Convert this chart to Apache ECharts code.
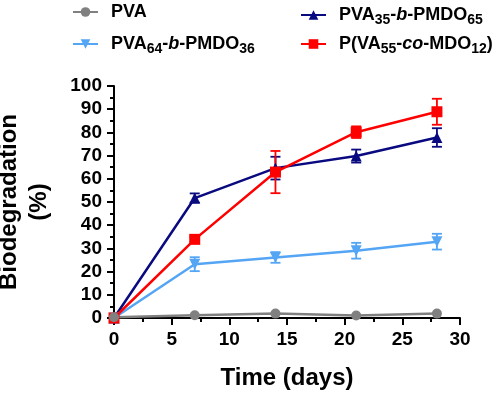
<!DOCTYPE html>
<html><head><meta charset="utf-8">
<script src="https://cdn.jsdelivr.net/npm/echarts@6/dist/echarts.min.js"></script>
<style>html,body{margin:0;padding:0;background:#fff}#c{width:500px;height:393px}</style>
</head><body><div id="c"></div>
<script>
const days = [0, 7, 14, 21, 28];
const pva = [0.3, 1.2, 1.9, 1.1, 1.9];
const pva64 = [0, 23.2, 26.1, 29, 32.9];
const pva64Err = [0, 3, 2.3, 3.4, 3.4];
const pva35 = [0, 51.7, 64.6, 69.8, 77.8];
const pva35Err = [0, 2, 4.9, 2.8, 4];
const pvaco = [0, 33.9, 62.9, 80.1, 88.9];
const pvacoErr = [0, 1, 9.1, 2.5, 5.6];
const xTicks = [0, 5, 10, 15, 20, 25, 30];
const yTicks = [0, 10, 20, 30, 40, 50, 60, 70, 80, 90, 100];

const names = ['PVA', 'PVA64-b-PMDO36', 'PVA35-b-PMDO65', 'P(VA55-co-MDO12)'];
const colors = ['#808080', '#55a5f5', '#0a0a80', '#ff0000'];
const FONT = 'Liberation Sans';

function pts(vals) { return days.map((d, i) => [d, vals[i]]); }
function errSeries(vals, errs, color) {
  return {
    type: 'custom', silent: true, z: 1,
    data: days.map((d, i) => [d, vals[i], errs[i]]).filter(r => r[2] > 0),
    renderItem: function (params, api) {
      const x = api.value(0), y = api.value(1), e = api.value(2);
      const top = api.coord([x, y + e]), bot = api.coord([x, y - e]);
      const w = 5;
      const st = { stroke: color, lineWidth: 1.8 };
      return { type: 'group', children: [
        { type: 'line', shape: { x1: top[0], y1: top[1], x2: bot[0], y2: bot[1] }, style: st },
        { type: 'line', shape: { x1: top[0] - w, y1: top[1], x2: top[0] + w, y2: top[1] }, style: st },
        { type: 'line', shape: { x1: bot[0] - w, y1: bot[1], x2: bot[0] + w, y2: bot[1] }, style: st }
      ]};
    }
  };
}
function lineSeries(name, vals, color, symbol, size, rotate) {
  return { name: name, type: 'line', data: pts(vals), symbol: symbol, symbolSize: size, symbolRotate: rotate || 0,
    showAllSymbol: true, z: 3,
    lineStyle: { color: color, width: 2.5 }, itemStyle: { color: color } };
}
const rich = {
  n: { fontFamily: FONT, fontWeight: 'bold', fontSize: 18, color: '#000', lineHeight: 22 },
  i: { fontFamily: FONT, fontWeight: 'bold', fontStyle: 'italic', fontSize: 18, color: '#000', lineHeight: 22 },
  s: { fontFamily: FONT, fontWeight: 'bold', fontSize: 14, color: '#000', lineHeight: 22, padding: [10, 0, 0, 0] }
};
const labels = {
  'PVA': '{n|PVA}',
  'PVA64-b-PMDO36': '{n|PVA}{s|64}{n|-}{i|b}{n|-PMDO}{s|36}',
  'PVA35-b-PMDO65': '{n|PVA}{s|35}{n|-}{i|b}{n|-PMDO}{s|65}',
  'P(VA55-co-MDO12)': '{n|P(VA}{s|55}{n|-}{i|co}{n|-MDO}{s|12}{n|)}'
};
const legendPos = [[72, 3], [72, 32], [300, 3], [300, 32]];
const legends = names.map((nm, k) => ({
  data: [nm], left: legendPos[k][0], top: legendPos[k][1], padding: 0, itemWidth: 25, itemHeight: 12, itemGap: 14,
  selectedMode: false, formatter: n => labels[n], textStyle: { rich: rich, padding: [0, 0, 0, 8] }
}));

const chart = echarts.init(document.getElementById('c'), null, { renderer: 'canvas' });
chart.setOption({
  animation: false,
  backgroundColor: '#fff',
  color: colors,
  legend: legends,
  grid: { left: 114, right: 40, top: 86, bottom: 75, containLabel: false, outerBoundsMode: 'none' },
  xAxis: {
    type: 'value', min: 0, max: 30, interval: 5,
    name: 'Time (days)', nameLocation: 'middle', nameGap: 48,
    nameTextStyle: { fontFamily: FONT, fontWeight: 'bold', fontSize: 24, color: '#000' },
    axisLine: { lineStyle: { color: '#000', width: 2 } },
    axisTick: { length: 7, lineStyle: { color: '#000', width: 2 } },
    minorTick: { show: true, splitNumber: 2, length: 4, lineStyle: { color: '#000', width: 2 } },
    axisLabel: { margin: 12, fontFamily: FONT, fontWeight: 'bold', fontSize: 19, color: '#000',
      formatter: v => xTicks.includes(v) ? String(v) : '' },
    splitLine: { show: false }
  },
  yAxis: {
    type: 'value', min: 0, max: 100, interval: 10,
    name: 'Biodegradation\n(%)', nameLocation: 'middle', nameGap: 60, nameRotate: 90,
    nameTextStyle: { fontFamily: FONT, fontWeight: 'bold', fontSize: 24, color: '#000', lineHeight: 30 },
    axisLine: { show: true, lineStyle: { color: '#000', width: 2 } },
    axisTick: { show: true, length: 7, lineStyle: { color: '#000', width: 2 } },
    minorTick: { show: true, splitNumber: 2, length: 4, lineStyle: { color: '#000', width: 2 } },
    axisLabel: { margin: 12, fontFamily: FONT, fontWeight: 'bold', fontSize: 19, color: '#000',
      formatter: v => yTicks.includes(v) ? String(v) : '' },
    splitLine: { show: false }
  },
  series: [
    errSeries(pva64, pva64Err, colors[1]),
    errSeries(pva35, pva35Err, colors[2]),
    errSeries(pvaco, pvacoErr, colors[3]),
    lineSeries(names[1], pva64, colors[1], 'triangle', 11, 180),
    lineSeries(names[2], pva35, colors[2], 'triangle', 11, 0),
    lineSeries(names[3], pvaco, colors[3], 'rect', 11, 0),
    lineSeries(names[0], pva, colors[0], 'circle', 10, 0)
  ]
});
</script></body></html>
